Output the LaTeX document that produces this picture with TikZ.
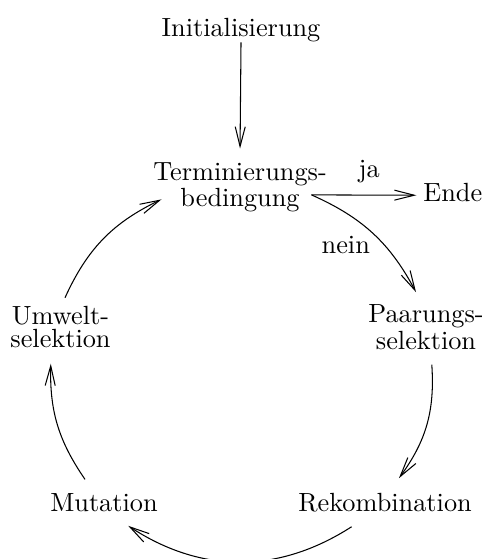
\documentclass[tikz,border=0pt]{standalone}
\usetikzlibrary{arrows,arrows.meta,positioning}

\begin{document}
\begin{tikzpicture}[
  stage/.style={inner sep=0pt,align=center,font=\linespread{0.72}\selectfont},
  flow/.style={-{Straight Barb[length=7.5pt,width=3.8pt]}}]
  \useasboundingbox (0,0) rectangle (6.444,-7.473);
  \node[stage] (init) at (3.222,-0.401) {Initialisierung};
  \node[stage] (term) at (3.209,-2.500) {Terminierungs-\\bedingung};
  \node[stage] (ende) at (6.053,-2.575) {Ende};
  \node[stage] (paar) at (5.695,-4.372) {Paarungs-\\selektion};
  \node[stage] (rek) at (5.147,-6.719) {Rekombination};
  \node[stage] (mut) at (1.390,-6.721) {Mutation};
  \node[stage] (umw) at (0.809,-4.376) {Umwelt-\\selektion};
  \draw[flow] (init.south) -- ([yshift=5pt]term.north);
  \draw[flow] ([xshift=-6pt,yshift=-3pt]term.east) -- node[above=1.1pt,pos=0.55] {ja} ([xshift=-2.5pt,yshift=-1pt]ende.west);
  \draw[flow] ([xshift=-6pt,yshift=-3pt]term.east) to[bend left=19] node[below left,pos=0.5,inner sep=1pt] {nein} ([xshift=-3.8pt,yshift=4.6pt]paar.north);
  \draw[flow] ([xshift=2.2pt,yshift=-5.6pt]paar.south) to[bend left=20] ([xshift=5.3pt,yshift=5.5pt]rek.north);
  \draw[flow] ([xshift=-12.7pt,yshift=-5.4pt]rek.south) to[bend left=33] ([xshift=9.2pt,yshift=-5.1pt]mut.south);
  \draw[flow] ([xshift=-7.2pt,yshift=5.2pt]mut.north) to[bend left=18] ([xshift=-3.7pt,yshift=-5.8pt]umw.south);
  \draw[flow] ([xshift=1.7pt,yshift=3.2pt]umw.north) to[bend left=20] ([xshift=3.3pt,yshift=-4.7pt]term.west);
\end{tikzpicture}
\end{document}
